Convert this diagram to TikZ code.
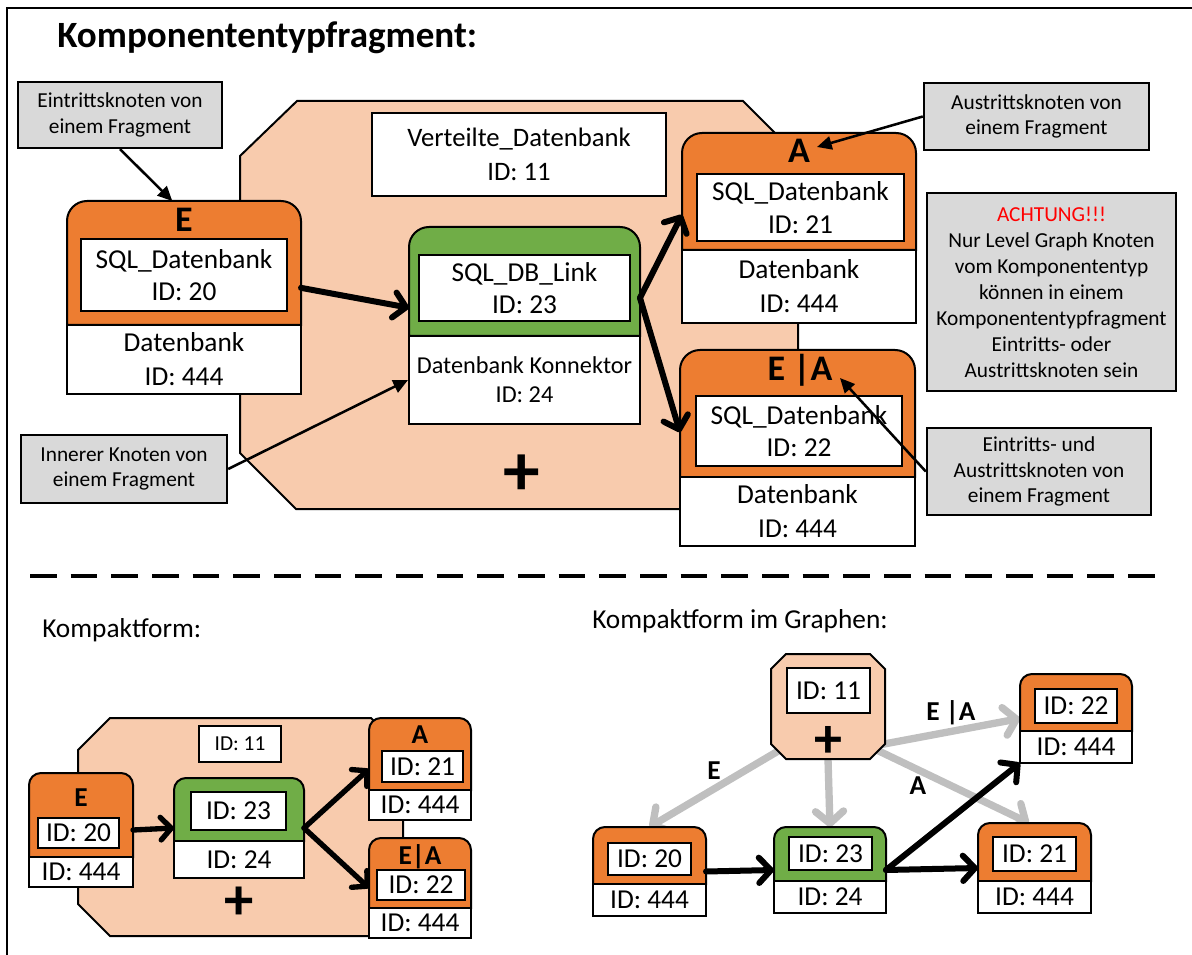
\documentclass[tikz,border=0pt]{standalone}
\usepackage{fontspec}
\setmainfont{Carlito}
\usetikzlibrary{arrows.meta,calc,fit}

\definecolor{orangeHead}{HTML}{ED7D31}
\definecolor{greenHead}{HTML}{70AD47}
\definecolor{peach}{HTML}{F8CBAD}
\definecolor{noteGray}{HTML}{D9D9D9}
\definecolor{linkGray}{HTML}{BFBFBF}
\definecolor{alertRed}{HTML}{FF0000}

\newcommand{\fsz}[2]{\fontsize{#1}{#2}\selectfont}

\pgfdeclarelayer{back}
\pgfsetlayers{back,main}

% coloured head of a component: rounded upper corners, square lower edge
% #1 x left, #2 y top, #3 x right, #4 y of split, #5 colour, #6 radius
\newcommand{\headpart}[6]{%
  \filldraw[fill=#5, boxline] (#1,#4) [rounded corners=#6] -- (#1,#2) -- (#3,#2) [sharp corners] -- (#3,#4) -- cycle;}

% rectangular text box given by its corners
% #1 name, #2 x1, #3 y1, #4 x2, #5 y2, #6 text, #7 style
\newcommand{\tbox}[7]{%
  \node[#7, minimum width={(#4-#2)*0.75pt}, minimum height={(#5-#3)*0.75pt}] (#1) at ({(#2+#4)/2},{(#3+#5)/2}) {#6};}

% invisible frame around a whole component, used as connector target
\newcommand{\area}[5]{\node[inner sep=0pt, outer sep=0pt, fit={(#2,#3) (#4,#5)}] (#1) {};}

\begin{document}
\begin{tikzpicture}[x=0.75pt, y=-0.75pt,
  boxline/.style={draw=black, line width=1.5pt},
  txtbox/.style={boxline, fill=white, inner sep=0pt, align=center},
  note/.style={draw=black, line width=1.8pt, fill=noteGray, inner sep=0pt, align=center, font={\fsz{16}{19}}},
  hdr/.style={font={\bfseries\fsz{27}{30}}, inner sep=0pt, anchor=base},
  hdrS/.style={font={\bfseries\fsz{20.5}{24}}, inner sep=0pt, anchor=base},
  plusmark/.style={font=\bfseries, inner sep=0pt},
  bigflow/.style={line width=4.5pt, line cap=round, -{Straight Barb[round, length=9pt, width=19pt]}},
  midflow/.style={line width=4pt, line cap=round, -{Straight Barb[round, length=8pt, width=17pt]}},
  pointer/.style={line width=1.9pt, -{Triangle[length=11pt, width=10pt]}},
  weak/.style={draw=linkGray, line width=5.5pt, -{Straight Barb[round, length=9pt, width=21pt]}},
  nt/.style={txtbox, font={\fsz{20.5}{24.5}}},
  lowt/.style={txtbox, font={\fsz{20.5}{25.5}}}
]
\useasboundingbox (0,0) rectangle (1192,955);
\clip (0,0) rectangle (1192,955);

% outer frame
\draw[line width=2pt] (7,970) -- (7,8) -- (1210,8);

\node[anchor=base west, inner sep=0pt, font={\bfseries\fsz{27.8}{32}}] (ttl) at (57,48) {Komponententypfragment:};

% ---------------- fragment (detailed form) ----------------
\filldraw[fill=peach, boxline] (297,101) -- (743,101) -- (798,156) -- (798,454) -- (743,509) -- (296,509) -- (240,453) -- (240,156) -- cycle;

\tbox{vdb}{372}{113}{666}{196}{Verteilte\_Datenbank\\ID: 11}{txtbox, font={\fsz{20}{25.5}}}

% entry node
\area{cE}{67}{201}{301}{394}
\headpart{67}{201}{301}{325}{orangeHead}{15pt}
\tbox{lE}{67}{325}{301}{394}{Datenbank\\ID: 444}{lowt}
\tbox{iE}{81}{239}{287}{311}{SQL\_Datenbank\\ID: 20}{nt}
\node[hdr] (hE) at (184,232) {E};

% connector node
\area{cG}{409}{227}{640}{424}
\headpart{409}{227}{640}{336}{greenHead}{15pt}
\tbox{lG}{409}{336}{640}{424}{Datenbank Konnektor\\ID: 24}{txtbox, font={\fsz{18.2}{22}}}
\tbox{iG}{419}{255}{630}{321}{SQL\_DB\_Link\\ID: 23}{nt}

% exit node
\area{cA}{682}{133}{916}{323}
\headpart{682}{133}{916}{250}{orangeHead}{15pt}
\tbox{lA}{682}{250}{916}{323}{Datenbank\\ID: 444}{lowt}
\tbox{iA}{697}{174}{904}{241}{SQL\_Datenbank\\ID: 21}{nt}
\node[hdr] (hA) at (799,163) {A};

% entry and exit node
\area{cEA}{680}{350}{915}{546}
\headpart{680}{350}{915}{477}{orangeHead}{15pt}
\tbox{lEA}{680}{477}{915}{546}{Datenbank\\ID: 444}{lowt}
\tbox{iEA}{696}{396}{902}{466}{SQL\_Datenbank\\ID: 22}{nt}
\node[hdr] (hEA) at (800,381) {E |A};

\node[plusmark, font={\bfseries\fsz{55}{60}}] (plusTop) at (522,475) {+};

\draw[bigflow] ($(cE.north east)!0.45!(cE.south east)$) -- ($(cG.north west)!0.41!(cG.south west)$);
\draw[bigflow] ($(cG.north east)!0.36!(cG.south east)$) -- ($(cA.north west)!0.43!(cA.south west)$);
\draw[bigflow] ($(cG.north east)!0.36!(cG.south east)$) -- ($(cEA.north west)!0.42!(cEA.south west)$);

% explanatory notes
\tbox{nIn}{18}{82}{222}{148}{Eintrittsknoten von\\einem Fragment}{note}
\tbox{nOut}{924}{83}{1149}{150}{Austrittsknoten von\\einem Fragment}{note}
\tbox{nInner}{21}{435}{227}{503}{Innerer Knoten von\\einem Fragment}{note}
\tbox{nBoth}{927}{428}{1151}{515}{Eintritts- und\\Austrittsknoten von\\einem Fragment}{note}
\tbox{nWarn}{927}{193}{1176}{391}{\textcolor{alertRed}{ACHTUNG!!!}\\Nur Level Graph Knoten\\vom Komponententyp\\können in einem\\Komponententypfragment\\Eintritts- oder\\Austrittsknoten sein}{note, font={\fsz{16}{19.5}}}

\coordinate (tipA) at (817,147);
\coordinate (tipEA) at (840,378);
\draw[pointer] (nIn.south) -- ($(cE.north west)!0.45!(cE.north east)$);
\draw[pointer] (nOut.west) -- (tipA);
\draw[pointer] (nInner.east) -- (lG.west);
\draw[pointer] (nBoth.west) -- (tipEA);

% separator
\draw[line width=3pt, dash pattern=on 20pt off 10.5pt] (30,576) -- (1163,576);

% ---------------- compact form ----------------
\node[anchor=base west, inner sep=0pt, font={\fsz{20.5}{24}}] (lblKF) at (42,637) {Kompaktform:};

\filldraw[fill=peach, boxline] (110,718) -- (371,718) -- (403,750) -- (403,904) -- (371,936) -- (110,936) -- (78,904) -- (78,750) -- cycle;
\tbox{k11}{199}{726}{281}{762}{ID: 11}{txtbox, font={\fsz{16}{19}}}

\area{kE}{29}{773}{133}{887}
\headpart{29}{773}{133}{857}{orangeHead}{9pt}
\tbox{klE}{29}{857}{133}{887}{ID: 444}{nt}
\tbox{kiE}{38}{818}{119}{848}{ID: 20}{nt}
\node[hdrS] (khE) at (81,806) {E};

\area{kG}{174}{778}{304}{878}
\headpart{174}{778}{304}{841}{greenHead}{9pt}
\tbox{klG}{174}{841}{304}{878}{ID: 24}{nt}
\tbox{kiG}{191}{792}{286}{830}{ID: 23}{nt}

\area{kA}{369}{718}{471}{820}
\headpart{369}{718}{471}{790}{orangeHead}{9pt}
\tbox{klA}{369}{790}{471}{820}{ID: 444}{nt}
\tbox{kiA}{382}{751}{463}{782}{ID: 21}{nt}
\node[hdrS] (khA) at (420,743) {A};

\area{kEA}{369}{838}{471}{938}
\headpart{369}{838}{471}{908}{orangeHead}{9pt}
\tbox{klEA}{369}{908}{471}{938}{ID: 444}{nt}
\tbox{kiEA}{377}{870}{465}{900}{ID: 22}{nt}
\node[hdrS] (khEA) at (420,864) {E|A};

\node[plusmark, font={\bfseries\fsz{44}{48}}] (plusK) at (239,903) {+};

\draw[midflow] (kE.east) -- (kG.west);
\draw[midflow] (kG.east) -- (kA.west);
\draw[midflow] (kG.east) -- (kEA.west);

% ---------------- compact form inside the graph ----------------
\node[anchor=base west, inner sep=0pt, font={\fsz{20.5}{24}}] (lblKG) at (592,628) {Kompaktform im Graphen:};

\area{g11}{771}{654}{885}{759}
\filldraw[fill=peach, boxline] (786,654) -- (870,654) -- (885,669) -- (885,744) -- (870,759) -- (786,759) -- (771,744) -- (771,669) -- cycle;
\tbox{gi11}{787}{668}{870}{713}{ID: 11}{nt}
\node[plusmark, font={\bfseries\fsz{42}{46}}] (plusG) at (828,742) {+};

\area{g22}{1020}{674}{1132}{763}
\headpart{1020}{674}{1132}{731}{orangeHead}{9pt}
\tbox{gl22}{1020}{731}{1132}{763}{ID: 444}{nt}
\tbox{gi22}{1035}{689}{1117}{723}{ID: 22}{nt}

\area{g20}{593}{827}{706}{916}
\headpart{593}{827}{706}{884}{orangeHead}{9pt}
\tbox{gl20}{593}{884}{706}{916}{ID: 444}{nt}
\tbox{gi20}{608}{843}{691}{875}{ID: 20}{nt}

\area{g23}{774}{827}{886}{913}
\headpart{774}{827}{886}{881}{greenHead}{9pt}
\tbox{gl23}{774}{881}{886}{913}{ID: 24}{nt}
\tbox{gi23}{789}{837}{872}{870}{ID: 23}{nt}

\area{g21}{978}{823}{1091}{913}
\headpart{978}{823}{1091}{881}{orangeHead}{9pt}
\tbox{gl21}{978}{881}{1091}{913}{ID: 444}{nt}
\tbox{gi21}{993}{837}{1076}{871}{ID: 21}{nt}

\begin{pgfonlayer}{back}
\draw[weak] ($(g11.south west)!0.1!(g11.north east)$) -- (g20.north);
\draw[weak] (g11.south) -- (g23.north);
\draw[weak] ($(g11.south east)!0.1!(g11.north west)$) -- ($(g21.north west)!0.45!(g21.north east)$);
\draw[weak] ($(g11.south east)!0.12!(g11.north west)$) -- (g22.west);
\end{pgfonlayer}

\node[hdrS] (tE) at (714,779) {E};
\node[hdrS] (tA) at (918,794) {A};
\node[hdrS] (tEA) at (951,720) {E |A};

\draw[bigflow] (g20.east) -- (g23.west);
\draw[bigflow] (g23.east) -- (g21.west);
\draw[bigflow] (g23.east) -- (g22.south west);
\end{tikzpicture}
\end{document}
